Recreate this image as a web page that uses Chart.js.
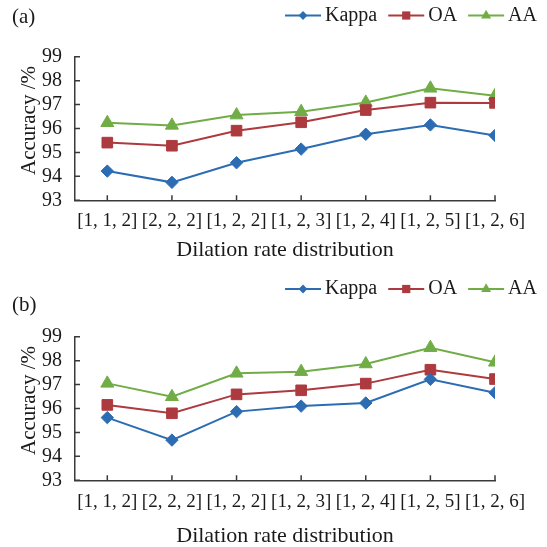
<!DOCTYPE html>
<html>
<head>
<meta charset="utf-8">
<script src="https://cdn.jsdelivr.net/npm/chart.js@4.4.1/dist/chart.umd.min.js"></script>
<style>
  html, body { margin: 0; padding: 0; background: #fff; overflow: hidden; }
  canvas { position: absolute; left: 0; }
</style>
</head>
<body>
<canvas id="chartA" width="547" height="280" style="top:0"></canvas>
<canvas id="chartB" width="547" height="277" style="top:270px"></canvas>
<script>
// Data
const categories = ['[1, 1, 2]', '[2, 2, 2]', '[1, 2, 2]', '[1, 2, 3]', '[1, 2, 4]', '[1, 2, 5]', '[1, 2, 6]'];
const seriesNames = ['Kappa', 'OA', 'AA'];

const kappaA = [94.22, 93.75, 94.57, 95.14, 95.76, 96.15, 95.71];
const oaA    = [95.41, 95.28, 95.91, 96.26, 96.77, 97.08, 97.07];
const aaA    = [96.24, 96.13, 96.56, 96.70, 97.09, 97.68, 97.37];

const kappaB = [95.62, 94.68, 95.87, 96.10, 96.23, 97.22, 96.66];
const oaB    = [96.15, 95.80, 96.59, 96.76, 97.04, 97.62, 97.23];
const aaB    = [97.05, 96.49, 97.47, 97.54, 97.86, 98.54, 97.93];

const yMin = 93, yMax = 99;
const xTitle = 'Dilation rate distribution';
const yTitle = 'Accuracy /%';

// Look
const FONT = "'Liberation Serif', 'Times New Roman', serif";
const TEXT = '#1a1a1a';
const AXIS = '#3a3a3a';
const look = [
  { color: '#2c6cb3', point: 'rectRot', r: 6.2, lr: 4.4 },
  { color: '#ad3a3e', point: 'rect', r: 7.5, lr: 5.8 },
  { color: '#71ad47', point: 'triangle', r: 7.5, lr: 5.8 }
];

// inward tick marks, y title, panel label and line+marker legend
const decor = {
  id: 'decor',
  beforeDatasetsDraw(chart) {
    const { ctx, chartArea: a, scales: { x, y } } = chart;
    ctx.save();
    ctx.strokeStyle = AXIS;
    ctx.lineWidth = 1.5;
    ctx.beginPath();
    x.ticks.forEach(t => {
      const px = x.getPixelForValue(t.value);
      ctx.moveTo(px, a.bottom);
      ctx.lineTo(px, a.bottom - 5);
    });
    y.ticks.forEach(t => {
      const py = y.getPixelForValue(t.value);
      ctx.moveTo(a.left, py);
      ctx.lineTo(a.left + 5, py);
    });
    ctx.stroke();
    ctx.restore();
  },
  afterDraw(chart, args, opts) {
    const { ctx, chartArea: a } = chart;
    ctx.save();
    ctx.fillStyle = TEXT;
    ctx.textBaseline = 'middle';

    // y axis title
    ctx.save();
    ctx.font = '21px ' + FONT;
    ctx.translate(29, (a.top + a.bottom) / 2 - 8);
    ctx.rotate(-Math.PI / 2);
    ctx.textAlign = 'center';
    ctx.fillText(yTitle, 0, 0);
    ctx.restore();

    ctx.font = '21px ' + FONT;
    ctx.textAlign = 'left';
    ctx.fillText(opts.label, 12, opts.labelY);

    ctx.font = '20px ' + FONT;
    const sets = chart.data.datasets;
    const lineW = 36, gap = 4, itemGap = 11;
    let total = 0;
    sets.forEach((d, i) => {
      total += lineW + gap + ctx.measureText(d.label).width + (i ? itemGap : 0);
    });
    let cx = opts.legendRight - total;
    const ly = opts.legendY;
    sets.forEach((d, i) => {
      if (i) cx += itemGap;
      ctx.strokeStyle = d.borderColor;
      ctx.lineWidth = 2;
      ctx.beginPath();
      ctx.moveTo(cx, ly);
      ctx.lineTo(cx + lineW, ly);
      ctx.stroke();
      ctx.fillStyle = d.borderColor;
      Chart.helpers.drawPoint(ctx, { pointStyle: d.pointStyle, radius: d.legendRadius, rotation: 0, borderWidth: 0 }, cx + lineW / 2, ly);
      cx += lineW + gap;
      ctx.fillStyle = TEXT;
      ctx.fillText(d.label, cx, ly);
      cx += ctx.measureText(d.label).width;
    });
    ctx.restore();
  }
};

function makePanel(id, label, kappa, oa, aa, lay) {
  const series = [kappa, oa, aa];
  return new Chart(document.getElementById(id), {
    type: 'line',
    data: {
      datasets: seriesNames.map((name, i) => ({
        label: name,
        data: series[i].map((v, j) => ({ x: j, y: v })),
        borderColor: look[i].color,
        backgroundColor: look[i].color,
        borderWidth: 2,
        pointStyle: look[i].point,
        pointRadius: look[i].r,
        pointBorderWidth: 1,
        pointBackgroundColor: look[i].color,
        pointBorderColor: look[i].color,
        legendRadius: look[i].lr,
        tension: 0
      }))
    },
    options: {
      responsive: false,
      animation: false,
      layout: { padding: { top: lay.top, right: 52, left: 0, bottom: 0 } },
      plugins: {
        legend: { display: false },
        tooltip: { enabled: false },
        decor: { label: label, labelY: lay.labelY, legendY: lay.legendY, legendRight: 537 }
      },
      scales: {
        x: {
          type: 'linear',
          min: -0.5,
          max: categories.length - 1,
          grid: { display: false, drawTicks: false, tickLength: 0 },
          border: { color: AXIS, width: 1.5 },
          afterBuildTicks: s => { s.ticks = categories.map((c, i) => ({ value: i })); },
          afterFit: s => { s.height = lay.xHeight; },
          ticks: {
            autoSkip: false,
            maxRotation: 0,
            padding: lay.tickPad,
            color: TEXT,
            font: { family: FONT, size: 19 },
            callback: v => categories[v]
          },
          title: {
            display: true,
            text: xTitle,
            color: TEXT,
            font: { family: FONT, size: 22, lineHeight: 1 },
            padding: { top: 0, bottom: lay.titlePad }
          }
        },
        y: {
          min: yMin,
          max: yMax,
          grid: { display: false, drawTicks: false, tickLength: 0 },
          border: { color: AXIS, width: 1.5 },
          afterFit: s => { s.width = 75; },
          ticks: { stepSize: 1, autoSkip: false, padding: 13, color: TEXT, font: { family: FONT, size: 20 } }
        }
      }
    },
    plugins: [decor]
  });
}

makePanel('chartA', '(a)', kappaA, oaA, aaA,
  { top: 56.7, xHeight: 79.7, tickPad: 9.5, titlePad: 19, labelY: 17, legendY: 15.5 });
makePanel('chartB', '(b)', kappaB, oaB, aaB,
  { top: 66.7, xHeight: 66.7, tickPad: 10.5, titlePad: 0, labelY: 35.5, legendY: 19 });
</script>
</body>
</html>
